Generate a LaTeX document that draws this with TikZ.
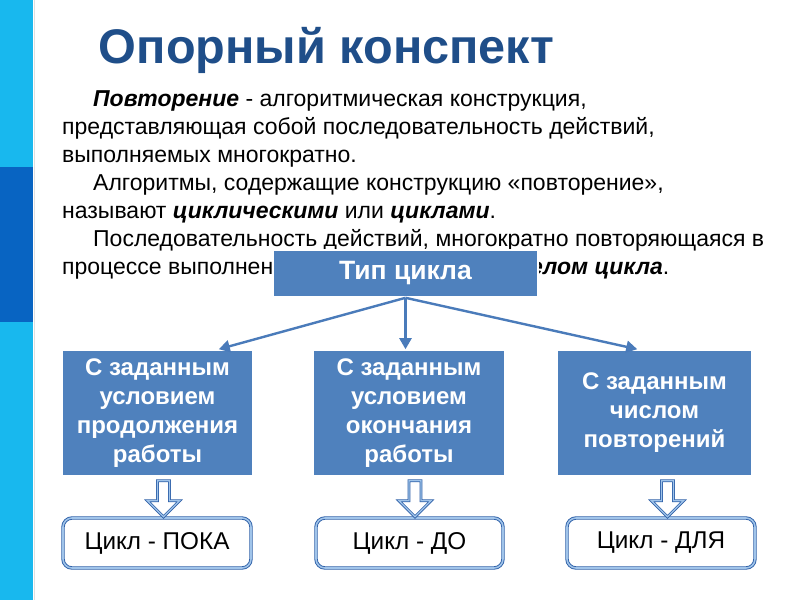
\documentclass[tikz,border=0pt]{standalone}
\usepackage{fontspec}
\setmainfont{Liberation Sans}
\usetikzlibrary{arrows.meta,calc,shadows}
\definecolor{barcyan}{RGB}{24,184,238}
\definecolor{bardark}{RGB}{8,100,194}
\definecolor{titleblue}{RGB}{31,78,137}
\definecolor{boxblue}{RGB}{79,129,189}
\definecolor{lineblue}{RGB}{74,123,186}
\definecolor{outblue}{RGB}{46,96,168}
\definecolor{lightblue}{RGB}{160,196,234}
\tikzset{
  bluebox/.style={draw=white, line width=1.6pt, fill=boxblue, text=white,
    font=\fontsize{24}{29}\selectfont\bfseries, align=center, inner sep=0pt,
    drop shadow={opacity=0.3, shadow xshift=1.2pt, shadow yshift=-1.2pt}},
  resbox/.style={draw=outblue, line width=0.9pt, double=lightblue, double distance=1.6pt,
    rounded corners=9pt, fill=white, font=\fontsize{24.3}{28}\selectfont, inner sep=0pt},
  conn/.style={draw=lineblue, line width=2.4pt, -{Triangle[width=12pt,length=11pt]}},
  harrow/.style={draw=outblue, line width=0.8pt, double=lightblue, double distance=1.2pt, fill=white, line join=miter},
  para/.style={anchor=base west, inner sep=0pt, font=\fontsize{23}{28}\selectfont, text=black},
  hollow arrow/.pic={\path[harrow] (-6,0) -- (-6,20) -- (-16,20) -- (0,36) -- (16,20) -- (6,20) -- (6,0) -- cycle;}
}
\begin{document}
\begin{tikzpicture}[x=1pt,y=-1pt]
\useasboundingbox (0,0) rectangle (800,600);
\fill[white] (0,0) rectangle (800,600);
% left bar
\fill[barcyan] (0,0) rectangle (33,600);
\fill[bardark] (0,167) rectangle (33,322);
\draw[gray!25, line width=0.8pt] (34.5,0) -- (34.5,600);
% title
\node[anchor=base, inner sep=0pt, text=titleblue, font=\fontsize{48.6}{50}\selectfont\bfseries] (title) at (326.5,63) {Опорный конспект};
% paragraph
\node[para] (l1) at (93,106) {\textbf{\textit{Повторение}} - алгоритмическая конструкция,};
\node[para] (l2) at (62,134) {представляющая собой последовательность действий,};
\node[para] (l3) at (62,162) {выполняемых многократно.};
\node[para] (l4) at (93,190) {Алгоритмы, содержащие конструкцию «повторение»,};
\node[para] (l5) at (62,218) {называют \textbf{\textit{циклическими}} или \textbf{\textit{циклами}}.};
\node[para] (l6) at (93,246) {Последовательность действий, многократно повторяющаяся в};
\node[para] (l7) at (62,274) {процессе выполнения цикла, называется \textbf{\textit{телом цикла}}.};
% top box
\node[bluebox, minimum width=265pt, minimum height=47pt, font=\fontsize{26.5}{30}\selectfont\bfseries] (tip) at (405.5,273.5) {Тип цикла};
% three boxes
\node[bluebox, minimum width=191pt, minimum height=126pt] (b1) at (157.5,413) {С заданным\\условием\\продолжения\\работы};
\node[bluebox, minimum width=192pt, minimum height=126pt] (b2) at (409,413) {С заданным\\условием\\окончания\\работы};
\node[bluebox, minimum width=195pt, minimum height=126pt] (b3) at (654.5,413) {С заданным\\числом\\повторений};
% connectors
\draw[conn] (tip.south) -- ($(b1.north east)+(-35,0)$);
\draw[conn] (tip.south) -- (tip.south |- b2.north);
\draw[conn] (tip.south) -- ($(b3.north west)+(81,0)$);
% result boxes
\node[resbox, minimum width=188pt, minimum height=50pt] (c1) at (157,543) {Цикл - ПОКА};
\node[resbox, minimum width=187pt, minimum height=50pt] (c2) at (409.5,543) {Цикл - ДО};
\node[resbox, minimum width=188pt, minimum height=50pt] (c3) at (661,543) {Цикл - ДЛЯ};
% hollow arrows
\pic at ($(b1.south)+(6,4)$) {hollow arrow};
\pic at ($(b2.south)+(6,4)$) {hollow arrow};
\pic at ($(b3.south)+(13,4)$) {hollow arrow};
\end{tikzpicture}
\end{document}
